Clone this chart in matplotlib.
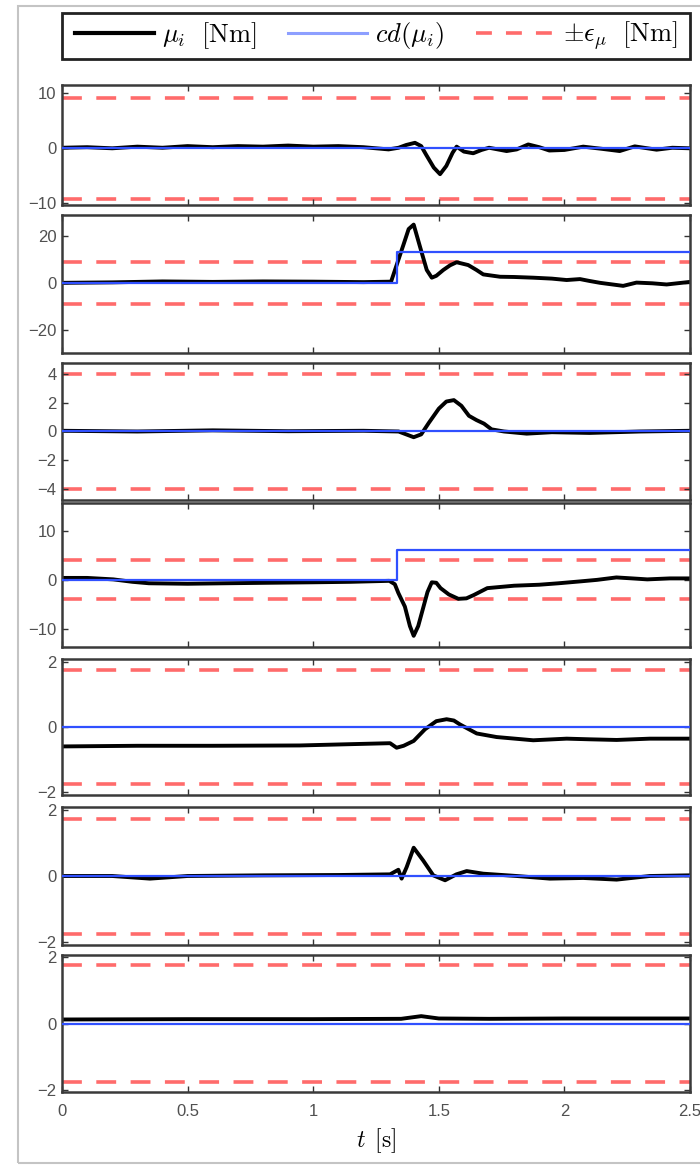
import matplotlib
matplotlib.use("Agg")
from matplotlib import pyplot as plt
from matplotlib.lines import Line2D
from matplotlib.patches import Rectangle

plt.rcParams['mathtext.fontset'] = 'cm'
plt.rcParams['font.family'] = ['Liberation Sans', 'DejaVu Sans']

# ---- data (time in s, torque in Nm) ----
t1 = [0, 0.1, 0.2, 0.3, 0.4, 0.5, 0.6, 0.7, 0.8, 0.9, 1.0, 1.1, 1.2, 1.3, 1.34, 1.37, 1.405,
      1.43, 1.45, 1.48, 1.505, 1.53, 1.555, 1.571, 1.6, 1.637, 1.67, 1.70, 1.77, 1.81, 1.856,
      1.9, 1.94, 2.0, 2.075, 2.15, 2.22, 2.28, 2.367, 2.43, 2.5]
mu1 = [0.1, 0.2, 0.0, 0.3, 0.1, 0.4, 0.2, 0.4, 0.3, 0.5, 0.3, 0.4, 0.2, -0.2, 0.1, 0.6, 1.0,
       0.4, -1.2, -3.5, -4.7, -3.2, -0.8, 0.3, -0.6, -0.9, -0.3, 0.1, -0.5, -0.2, 0.7,
       0.2, -0.4, -0.3, 0.3, -0.1, -0.5, 0.35, -0.25, 0.1, 0.0]

t2 = [0, 0.2, 0.4, 0.6, 0.8, 1.0, 1.2, 1.31, 1.33, 1.36, 1.38, 1.40, 1.425, 1.452, 1.472,
      1.49, 1.518, 1.545, 1.571, 1.617, 1.65, 1.677, 1.744, 1.8, 1.876, 1.95, 2.009, 2.062,
      2.1, 2.142, 2.234, 2.287, 2.35, 2.407, 2.5]
mu2 = [0, 0.2, 0.6, 0.4, 0.6, 0.5, 0.3, 0.5, 6.9, 16.5, 23, 24.9, 15.5, 5.5, 2.2,
       3, 5.5, 7.5, 8.8, 7.6, 5.5, 3.6, 2.6, 2.5, 2.2, 1.8, 1.2, 1.6,
       0.8, 0, -1.3, 0.1, -0.2, -0.7, 0.4]

t3 = [0, 0.3, 0.6, 0.9, 1.2, 1.34, 1.37, 1.40, 1.43, 1.46, 1.50, 1.53, 1.56, 1.59, 1.62,
      1.65, 1.68, 1.71, 1.76, 1.85, 1.95, 2.1, 2.3, 2.5]
mu3 = [0.05, 0.0, 0.08, 0.02, 0.05, 0.0, -0.2, -0.4, -0.2, 0.6, 1.6, 2.1, 2.2, 1.8, 1.1,
       0.8, 0.55, 0.15, 0.0, -0.15, -0.05, -0.1, 0.0, 0.05]

t4 = [0, 0.1, 0.204, 0.28, 0.346, 0.5, 0.65, 0.82, 1.0, 1.15, 1.303, 1.325, 1.339, 1.365,
      1.385, 1.40, 1.418, 1.436, 1.455, 1.472, 1.49, 1.507, 1.54, 1.578, 1.61, 1.64, 1.693,
      1.80, 1.9, 1.977, 2.066, 2.13, 2.207, 2.27, 2.33, 2.42, 2.5]
mu4 = [0.4, 0.4, 0.1, -0.4, -0.7, -0.8, -0.7, -0.6, -0.5, -0.4, -0.2, -0.9, -2.7, -5.5,
       -9.5, -11.5, -9.5, -6.1, -2.5, -0.5, -0.6, -1.7, -3.0, -3.9, -3.8, -3.1, -1.7,
       -1.2, -1.0, -0.7, -0.3, 0.0, 0.5, 0.3, 0.1, 0.3, 0.3]

t5 = [0, 0.3, 0.6, 0.947, 1.15, 1.306, 1.332, 1.36, 1.40, 1.445, 1.49, 1.531, 1.56, 1.584,
      1.651, 1.73, 1.876, 2.009, 2.1, 2.208, 2.34, 2.5]
mu5 = [-0.6, -0.58, -0.58, -0.57, -0.53, -0.5, -0.64, -0.58, -0.43, -0.07, 0.18, 0.24, 0.2,
       0.08, -0.2, -0.31, -0.41, -0.36, -0.38, -0.4, -0.36, -0.36]

t6 = [0, 0.2, 0.35, 0.5, 0.8, 1.1, 1.306, 1.339, 1.352, 1.372, 1.40, 1.438, 1.478, 1.525,
      1.57, 1.611, 1.677, 1.81, 1.942, 2.075, 2.208, 2.34, 2.5]
mu6 = [0, 0, -0.08, 0, 0.02, 0.03, 0.05, 0.19, -0.08, 0.27, 0.86, 0.47, 0.02, -0.13,
       0.05, 0.15, 0.07, 0.0, -0.08, -0.06, -0.11, 0.0, 0.02]

t7 = [0, 0.5, 1.0, 1.35, 1.43, 1.5, 1.7, 2.0, 2.5]
mu7 = [0.12, 0.13, 0.13, 0.14, 0.22, 0.15, 0.14, 0.15, 0.15]

# collision detection output (step at the detected instant)
cd_t = [0, 1.335, 1.335, 2.5]
cd_vals = [
    [0, 0, 0, 0],
    [0, 0, 13, 13],
    [0, 0, 0, 0],
    [0, 0, 6.1, 6.1],
    [0, 0, 0, 0],
    [0, 0, 0, 0],
    [0, 0, 0, 0],
]

eps = [9.2, 9, 4, 4, 1.75, 1.75, 1.75]
ylims = [(-10.3, 11.5), (-30, 29), (-4.8, 4.8), (-13.8, 15.8), (-2.1, 2.1), (-2.1, 2.1), (-2.05, 2.05)]
yticks = [[-10, 0, 10], [-20, 0, 20], [-4, -2, 0, 2, 4], [-10, 0, 10], [-2, 0, 2], [-2, 0, 2], [-2, 0, 2]]
xticks = [0, 0.5, 1, 1.5, 2, 2.5]
xticklabels = ['0', '0.5', '1', '1.5', '2', '2.5']

ts = [t1, t2, t3, t4, t5, t6, t7]
mus = [mu1, mu2, mu3, mu4, mu5, mu6, mu7]

# ---- layout (pixel rows of each panel in the 700x1166 image) ----
W, H = 700, 1166
rows = [(85, 205), (215, 353), (363, 500), (503, 647), (659, 795), (807, 945), (955, 1092)]
left, right = 62, 690

BLACK = '#000000'
BLUE = '#3050ff'
RED = '#ff6b6b'

fig = plt.figure(figsize=(W / 100, H / 100), dpi=100)

# light outer frame
fig.patches.append(Rectangle((18 / W, 1 - 1163 / H), (W - 18) / W + 0.01, (1163 - 6) / H,
                             transform=fig.transFigure, fill=False,
                             edgecolor='#c4c4c4', lw=1.5))
# legend box
fig.patches.append(Rectangle((left / W, 1 - 59 / H), (right - left) / W, 46 / H,
                             transform=fig.transFigure, fill=False,
                             edgecolor='#222222', lw=2.0))

axes = []
for i, (top, bot) in enumerate(rows):
    ax = fig.add_axes([left / W, 1 - bot / H, (right - left) / W, (bot - top) / H])
    ax.axhline(eps[i], color=RED, lw=2.6, dashes=(5.5, 4), zorder=1)
    ax.axhline(-eps[i], color=RED, lw=2.6, dashes=(5.5, 4), zorder=1)
    ax.plot(ts[i], mus[i], color=BLACK, lw=2.8, zorder=2, solid_capstyle='round')
    ax.plot(cd_t, cd_vals[i], color=BLUE, lw=1.6, zorder=3)
    ax.set_xlim(0, 2.5)
    ax.set_ylim(*ylims[i])
    ax.set_yticks(yticks[i])
    ax.set_xticks(xticks)
    ax.tick_params(direction='in', top=True, right=True, length=4, width=1,
                   labelsize=12, labelcolor='#505050', color='#333333', pad=4)
    ax.tick_params(axis='x', pad=9)
    if i < len(rows) - 1:
        ax.set_xticklabels([])
    else:
        ax.set_xticklabels(xticklabels)
    for sp in ax.spines.values():
        sp.set_linewidth(1.8)
        sp.set_color('#3a3a3a')
    axes.append(ax)

axes[-1].set_xlabel(r'$t\ \,\mathrm{[s]}$', fontsize=17, labelpad=5)

handles = [
    Line2D([], [], color=BLACK, lw=3.0),
    Line2D([], [], color=BLUE, lw=2.2, alpha=0.55),
    Line2D([], [], color=RED, lw=2.6, dashes=(4.4, 3.9)),
]
labels = [r'$\mu_i\ \ \mathrm{[Nm]}$', r'$cd(\mu_i)$', r'$\pm\epsilon_\mu\ \ \mathrm{[Nm]}$']
leg = fig.legend(handles, labels, loc='center', ncol=3,
                 bbox_to_anchor=((left + right) / 2 / W, 1 - 36 / H),
                 fontsize=19, handlelength=3.0, handletextpad=0.3, columnspacing=1.2,
                 frameon=False, borderaxespad=0.)

fig.savefig('out.png', dpi=100)
